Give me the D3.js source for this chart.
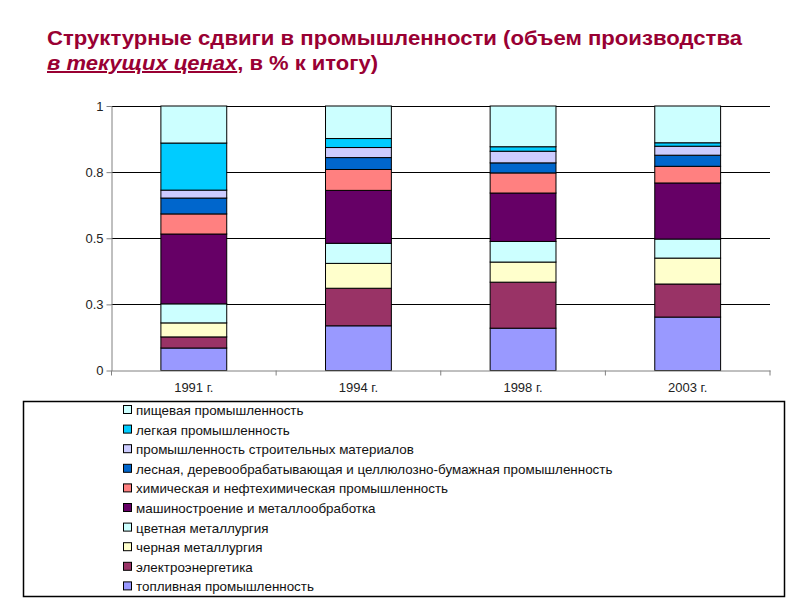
<!DOCTYPE html>
<html><head><meta charset="utf-8">
<script src="https://cdn.jsdelivr.net/npm/d3@7"></script>
<style>body{margin:0;background:#fff}svg{display:block}</style>
</head><body>
<svg id="c" width="800" height="600"></svg>
<script>
const years = ["1991 г.", "1994 г.", "1998 г.", "2003 г."];
// series listed bottom -> top
const seriesNames = [
  "топливная промышленность",
  "электроэнергетика",
  "черная металлургия",
  "цветная металлургия",
  "машиностроение и металлообработка",
  "химическая и нефтехимическая промышленность",
  "лесная, деревообрабатывающая и целлюлозно-бумажная промышленность",
  "промышленность строительных материалов",
  "легкая промышленность",
  "пищевая промышленность"
];
const toplivnaya   = [0.085, 0.169, 0.160, 0.202];
const elektro      = [0.042, 0.142, 0.174, 0.125];
const chernaya     = [0.053, 0.094, 0.076, 0.098];
const tsvetnaya    = [0.072, 0.076, 0.078, 0.072];
const mashino      = [0.264, 0.200, 0.183, 0.212];
const khimiya      = [0.076, 0.079, 0.076, 0.063];
const lesnaya      = [0.060, 0.045, 0.038, 0.042];
const stroymat     = [0.030, 0.038, 0.044, 0.034];
const legkaya      = [0.178, 0.034, 0.017, 0.013];
const pishchevaya  = [0.140, 0.123, 0.154, 0.139];
const seriesValues = [toplivnaya, elektro, chernaya, tsvetnaya, mashino, khimiya, lesnaya, stroymat, legkaya, pishchevaya];
const seriesColors = ["#9999FF","#993366","#FFFFCC","#CCFFFF","#660066","#FF8080","#0066CC","#CCCCFF","#00CCFF","#CCFFFF"];
const yTickValues = [0, 0.25, 0.5, 0.75, 1];
const yTickLabels = ["0", "0.3", "0.5", "0.8", "1"];

const svg = d3.select("#c");
const font = "'Liberation Sans', Arial, sans-serif";

// Title
const title = svg.append("g").attr("font-family", font).attr("font-weight", "bold").attr("fill", "#990033").attr("font-size", 20);
title.append("text").attr("x", 47).attr("y", 45)
  .attr("textLength", 695).attr("lengthAdjust", "spacingAndGlyphs")
  .text("Структурные сдвиги в промышленности (объем производства");
const t2 = title.append("text").attr("x", 47).attr("y", 70)
  .attr("textLength", 331).attr("lengthAdjust", "spacingAndGlyphs");
t2.append("tspan").attr("font-style", "italic").attr("text-decoration", "underline").text("в текущих ценах");
t2.append("tspan").text(", в % к итогу)");

// Chart
const x0 = 111.5, x1 = 770, yTop = 106, yBot = 370.5;
const x = d3.scaleBand().domain(years).range([x0, x1]).paddingInner(0).paddingOuter(0);
const y = d3.scaleLinear().domain([0, 1]).range([yBot, yTop]);

const table = years.map((yr, i) => {
  const o = {year: yr};
  seriesNames.forEach((s, k) => o[s] = seriesValues[k][i]);
  return o;
});
const stack = d3.stack().keys(seriesNames)(table);

// gridlines
svg.append("g").selectAll("line").data(yTickValues.filter(v => v > 0)).join("line")
  .attr("x1", x0).attr("x2", x1).attr("y1", d => Math.round(y(d)) + 0.5).attr("y2", d => Math.round(y(d)) + 0.5)
  .attr("stroke", "#000").attr("stroke-width", 1);

// bars
const bw = x.bandwidth() * 0.4;
svg.append("g").selectAll("g").data(stack).join("g")
  .attr("fill", (d, i) => seriesColors[i])
  .selectAll("rect").data(d => d).join("rect")
  .attr("x", d => x(d.data.year) + (x.bandwidth() - bw) / 2)
  .attr("width", bw)
  .attr("y", d => y(d[1]))
  .attr("height", d => y(d[0]) - y(d[1]))
  .attr("stroke", "#000").attr("stroke-width", 1);

// y axis
const yAxis = d3.axisLeft(y).tickValues(yTickValues).tickFormat((d, i) => yTickLabels[i]).tickSize(5).tickSizeOuter(0);
const gy = svg.append("g").attr("transform", `translate(${x0},0)`).call(yAxis);
gy.select(".domain").attr("stroke", "#808080");
gy.selectAll(".tick line").attr("stroke", "#808080");
gy.selectAll(".tick text").attr("font-family", font).attr("font-size", 13).attr("fill", "#222").attr("x", -8);

// x axis
const xAxis = d3.axisBottom(x).tickSize(0).tickSizeOuter(0);
const gx = svg.append("g").attr("transform", `translate(0,${yBot})`).call(xAxis);
gx.select(".domain").attr("stroke", "#808080");
gx.selectAll(".tick text").attr("font-family", font).attr("font-size", 13).attr("fill", "#222").attr("dy", 0).attr("y", 21);
// category separator ticks
const bounds = years.map(yr => x(yr)).concat([x1]);
gx.append("g").selectAll("line").data(bounds).join("line")
  .attr("x1", d => d).attr("x2", d => d).attr("y1", 0).attr("y2", 5).attr("stroke", "#808080");

// Legend
svg.append("rect").attr("x", 23.5).attr("y", 401.5).attr("width", 761).attr("height", 195)
  .attr("fill", "#fff").attr("stroke", "#000").attr("stroke-width", 1.5);
const legendOrder = d3.range(seriesNames.length).reverse();
const lg = svg.append("g").selectAll("g").data(legendOrder).join("g")
  .attr("transform", (d, i) => `translate(123,${410 + i * 19.6})`);
lg.append("rect").attr("x", 0.5).attr("y", -4.5).attr("width", 8).attr("height", 8)
  .attr("fill", d => seriesColors[d]).attr("stroke", "#000").attr("stroke-width", 1);
lg.append("text").attr("x", 13).attr("y", 5)
  .attr("font-family", font).attr("font-size", 13.4).attr("fill", "#111")
  .text(d => seriesNames[d]);
</script>
</body></html>
